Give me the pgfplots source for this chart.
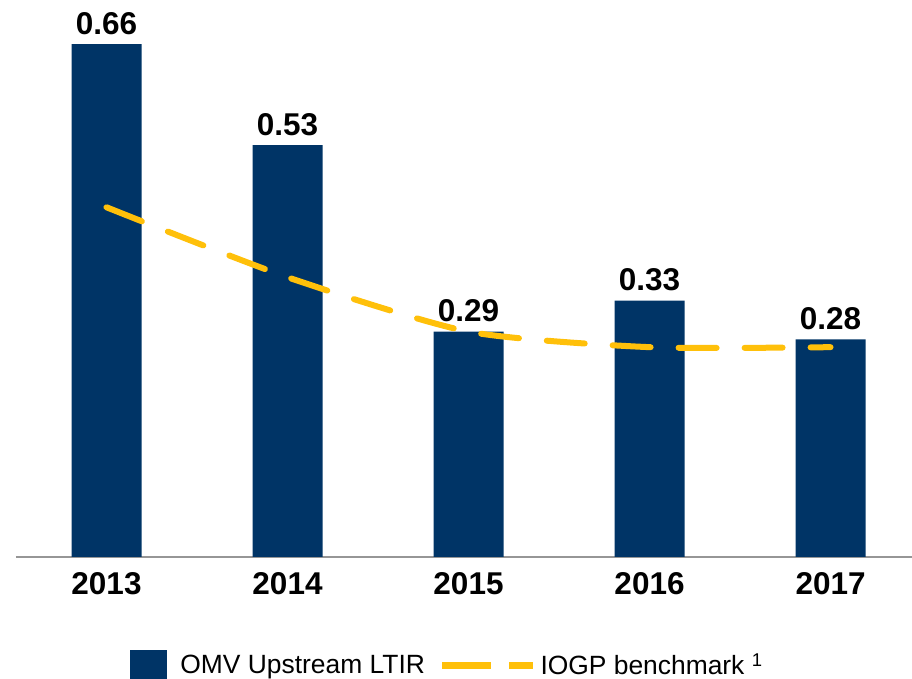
\documentclass[border=0pt]{standalone}
\usepackage{fontspec}
\setmainfont{Liberation Sans}
\usepackage{pgfplots}
\pgfplotsset{compat=1.18}
\definecolor{omvblue}{RGB}{0,52,102}
\definecolor{iogpgold}{RGB}{255,192,10}
\definecolor{basegray}{RGB}{150,150,150}

\begin{document}
\begin{tikzpicture}
\path[use as bounding box] (0,0) rectangle (456pt,339.5pt);
\begin{axis}[
    at={(8pt,61pt)}, anchor=south west,
    scale only axis, width=448pt, height=272pt,
    xmin=-0.5, xmax=4.45, ymin=0, ymax=0.7,
    axis y line=none, axis x line=bottom,
    x axis line style={-, draw=basegray, line width=1pt},
    xtick={0,...,4}, xticklabels={2013,2014,2015,2016,2017},
    major tick length=0pt,
    xticklabel style={font=\bfseries\fontsize{15.75}{18}\selectfont, anchor=base, yshift=-19pt},
    clip=false,
    /pgf/number format/assume math mode=true,
    legend columns=2,
    legend cell align=left,
    legend style={at={(0.483,-0.1995)}, anchor=center, draw=none, fill=none,
      font=\fontsize{13.2}{15}\selectfont,
      /tikz/every even column/.append style={column sep=5pt}},
  ]
  \addplot[ybar, bar width=35pt, fill=omvblue, draw=none,
    nodes near coords={\pgfmathprintnumber[fixed,fixed zerofill,precision=2]{\pgfplotspointmeta}},
    every node near coord/.append style={font=\bfseries\fontsize{15.75}{18}\selectfont, anchor=base, yshift=5pt, black},
    legend image code/.code={\fill[omvblue] (0pt,-8pt) rectangle (18.5pt,8pt);}]
    coordinates {(0,0.66) (1,0.53) (2,0.29) (3,0.33) (4,0.28)};
  \addlegendentry{\kern4.5pt OMV Upstream LTIR}

  \addplot[smooth, tension=0.4, draw=iogpgold, line width=3pt, line cap=round,
    dash pattern=on 19pt off 14pt,
    legend image code/.code={\draw[iogpgold, line width=3.3pt, line cap=butt, dash pattern=on 24.5pt off 9pt] (0pt,0pt) -- (45.5pt,0pt);}]
    coordinates {(0,0.45) (1,0.36) (2,0.29) (3,0.27) (4,0.27)};
  \addlegendentry{IOGP benchmark \textsuperscript{1}}
\end{axis}
\end{tikzpicture}
\end{document}
